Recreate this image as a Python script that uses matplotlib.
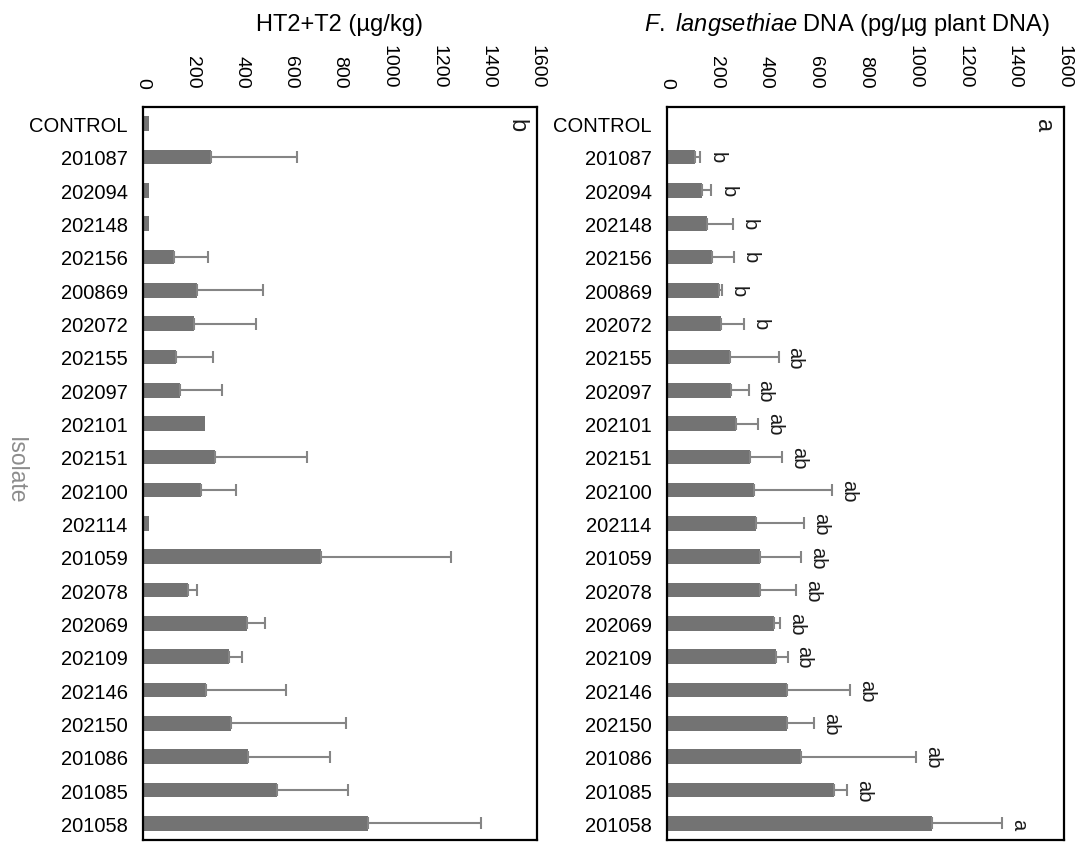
import matplotlib
matplotlib.use("Agg")
import matplotlib.pyplot as plt
import numpy as np

plt.rcParams['font.family'] = ['Liberation Sans', 'DejaVu Sans']
plt.rcParams['mathtext.fontset'] = 'custom'
plt.rcParams['mathtext.rm'] = 'Liberation Sans'
plt.rcParams['mathtext.it'] = 'Liberation Sans:italic'

isolates = ["CONTROL", "201087", "202094", "202148", "202156", "200869", "202072",
            "202155", "202097", "202101", "202151", "202100", "202114", "201059",
            "202078", "202069", "202109", "202146", "202150", "201086", "201085",
            "201058"]

# Panel b: HT2+T2 (µg/kg)
toxin_mean = [25, 276, 25, 25, 126, 219, 206, 136, 149, 252, 293, 234, 25, 721,
              182, 424, 348, 257, 359, 427, 545, 912]
toxin_upper = [np.nan, 351, np.nan, np.nan, 137, 270, 252, 150, 171, np.nan, 371, 143,
               np.nan, 528, 38, 73, 53, 323, 466, 334, 288, 461]

# Panel a: F. langsethiae DNA (pg/µg plant DNA)
dna_mean = [0, 114, 141, 161, 180, 210, 217, 253, 256, 277, 333, 350, 358, 373,
            373, 433, 438, 483, 485, 541, 675, 1067]
dna_upper = [np.nan, 21, 38, 105, 89, 11, 92, 197, 73, 90, 131, 317, 193, 167,
             146, 24, 48, 255, 108, 464, 52, 284]
dna_letters = ["", "b", "b", "b", "b", "b", "b", "ab", "ab", "ab", "ab", "ab", "ab",
               "ab", "ab", "ab", "ab", "ab", "ab", "ab", "ab", "a"]

xticks = [0, 200, 400, 600, 800, 1000, 1200, 1400, 1600]

W, H = 1086, 845
fig = plt.figure(figsize=(W / 100, H / 100), dpi=100)

bar_color = '#737373'
err_color = '#858585'
fs = 14.5


def make_panel(left_px, right_px, means, uppers, letters, title, title_x, panel_letter):
    top_px, bot_px = 108, 841
    ax = fig.add_axes([left_px / W, 1 - bot_px / H, (right_px - left_px) / W,
                       (bot_px - top_px) / H])
    y = np.arange(len(isolates))
    ax.barh(y, means, height=0.44, color=bar_color, zorder=2)
    up = np.array(uppers, dtype=float)
    m = np.array(means, dtype=float)
    ok = ~np.isnan(up)
    ax.errorbar(m[ok], y[ok], xerr=[np.zeros(ok.sum()), up[ok]], fmt='none',
                ecolor=err_color, elinewidth=1.5, capsize=4, capthick=1.5, zorder=3)
    ax.set_xlim(0, 1600)
    ax.set_ylim(len(isolates) - 0.5, -0.5)
    ax.set_yticks(y)
    ax.set_yticklabels(isolates, fontsize=fs)
    ax.xaxis.tick_top()
    ax.set_xticks(xticks)
    ax.set_xticklabels([str(t) for t in xticks], fontsize=14, rotation=270)
    ax.tick_params(axis='x', length=0, pad=14)
    ax.tick_params(axis='y', length=0, pad=11)
    for s in ax.spines.values():
        s.set_linewidth(1.6)
        s.set_color('black')
    if letters is not None:
        for yi, mi, ui, lab in zip(y, m, up, letters):
            if lab:
                ax.annotate(lab, xy=(mi + ui, yi), xytext=(5, 0), textcoords='offset points',
                            rotation=270, ha='left', va='center', fontsize=fs,
                            color='#1a1a1a')
    ax.annotate(panel_letter, xy=(1, 1), xycoords='axes fraction', xytext=(-7, -8),
                textcoords='offset points', rotation=270, ha='right', va='top',
                fontsize=17, color='#1a1a1a')
    fig.text(title_x / W, 1 - 25 / H, title, ha='center', va='center', fontsize=17)
    return ax


make_panel(143, 537, toxin_mean, toxin_upper, None, "HT2+T2 (µg/kg)", 340, "b")
make_panel(667, 1064, dna_mean, dna_upper, dna_letters,
           r"$\it{F.\ langsethiae}$ DNA (pg/µg plant DNA)", 847, "a")

fig.text(15 / W, 1 - 471 / H, "Isolate", rotation=270, ha='center', va='center',
         fontsize=16.5, color='#8c8c8c')

fig.savefig("out.png", dpi=100)
